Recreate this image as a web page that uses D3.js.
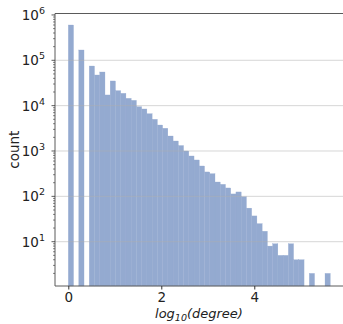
<!DOCTYPE html>
<html>
<head>
<meta charset="utf-8">
<script src="https://cdn.jsdelivr.net/npm/d3@7"></script>
<style>
  body { margin: 0; background: #fff; }
  text { font-family: "DejaVu Sans", sans-serif; fill: #222; }
</style>
</head>
<body>
<div id="chart"></div>
<script>
// histogram of log10(degree): 50 equal bins from 0 to binMax
const binMax = 5.634;
const nBins = 50;
const counts = [600000, 0, 168700, 0, 74800, 47400, 55200, 17200, 35000, 21400,
  18700, 14500, 13100, 9480, 8440, 6640, 5000, 3740, 3170, 2140,
  1660, 1320, 1000, 776, 634, 467, 345, 316, 207, 184,
  153, 113, 125, 98, 55, 37, 25, 17, 8, 9,
  5, 5, 9, 4, 4, 0, 2, 0, 0, 2];
const xTicks = [0, 2, 4];
const yTicks = [1e1, 1e2, 1e3, 1e4, 1e5, 1e6];

const W = 343, H = 324;
const margin = {top: 13.5, right: 0, bottom: 38, left: 55};
const width = W - margin.left - margin.right;
const height = H - margin.top - margin.bottom;

const svg = d3.select("#chart").append("svg")
    .attr("width", W)
    .attr("height", H);
const g = svg.append("g")
    .attr("transform", `translate(${margin.left},${margin.top})`);

const x = d3.scaleLinear().domain([-0.286, 5.908]).range([0, width]);
const y = d3.scaleLog().domain([Math.pow(10, 0.023), Math.pow(10, 6.032)]).range([height, 0]);

const bw = binMax / nBins;
const bins = counts.map((c, i) => ({x0: i * bw, x1: (i + 1) * bw, c: c}));

// bars
g.append("g")
  .selectAll("rect")
  .data(bins.filter(d => d.c > 0))
  .join("rect")
    .attr("x", d => x(d.x0))
    .attr("width", d => x(d.x1) - x(d.x0))
    .attr("y", d => y(d.c))
    .attr("height", d => height - y(d.c))
    .attr("fill", "#94aad0")
    .attr("stroke", "#94aad0")
    .attr("stroke-width", 0.3);

// horizontal grid
g.append("g")
  .selectAll("line")
  .data(yTicks.filter(t => t < 1e6))
  .join("line")
    .attr("x1", 0).attr("x2", width)
    .attr("y1", d => y(d)).attr("y2", d => y(d))
    .attr("stroke", "#b0b0b0")
    .attr("stroke-opacity", 0.5)
    .attr("stroke-width", 1);

// spines
const spine = "#5a5a5a";
g.append("line").attr("x1", 0).attr("x2", 0).attr("y1", 0).attr("y2", height)
  .attr("stroke", spine).attr("stroke-width", 1);
g.append("line").attr("x1", 0).attr("x2", width).attr("y1", 0).attr("y2", 0)
  .attr("stroke", spine).attr("stroke-width", 1);
g.append("line").attr("x1", 0).attr("x2", width).attr("y1", height).attr("y2", height)
  .attr("stroke", spine).attr("stroke-width", 1);

// x axis
const xAxis = g.append("g")
    .attr("transform", `translate(0,${height})`)
    .call(d3.axisBottom(x).tickValues(xTicks).tickFormat(d3.format("d"))
      .tickSize(3.5).tickSizeOuter(0).tickPadding(2.5));
xAxis.select(".domain").remove();
xAxis.selectAll("line").attr("stroke", "#333");
xAxis.selectAll("text").style("font-size", "13.5px").attr("fill", "#222");

// y minor ticks
const minor = [];
for (let e = 0; e < 6; e++) for (let m = 2; m <= 9; m++) minor.push(m * Math.pow(10, e));
g.append("g")
  .selectAll("line")
  .data(minor.filter(v => v >= y.domain()[0]))
  .join("line")
    .attr("x1", -2).attr("x2", 0)
    .attr("y1", d => y(d)).attr("y2", d => y(d))
    .attr("stroke", "#333").attr("stroke-width", 0.6);

// y major ticks + labels
const yt = g.append("g").selectAll("g")
  .data(yTicks)
  .join("g")
    .attr("transform", d => `translate(0,${y(d)})`);
yt.append("line").attr("x1", -3.5).attr("x2", 0).attr("stroke", "#333").attr("stroke-width", 0.8);
const lab = yt.append("text")
    .attr("x", -10)
    .attr("y", 5)
    .attr("text-anchor", "end")
    .style("font-size", "13.5px");
lab.append("tspan").text("10");
lab.append("tspan")
    .attr("dy", -6)
    .style("font-size", "9.5px")
    .text(d => Math.round(Math.log10(d)));

// axis titles
const xl = svg.append("text")
    .attr("x", margin.left + width / 2)
    .attr("y", 318)
    .attr("text-anchor", "middle")
    .style("font-size", "13px")
    .style("font-style", "italic");
xl.append("tspan").text("log");
xl.append("tspan").attr("dy", 3).style("font-size", "9.5px").text("10");
xl.append("tspan").attr("dy", -3).text("(degree)");

svg.append("text")
    .attr("transform", `translate(19,${margin.top + height / 2}) rotate(-90)`)
    .attr("text-anchor", "middle")
    .style("font-size", "13.5px")
    .text("count");
</script>
</body>
</html>
